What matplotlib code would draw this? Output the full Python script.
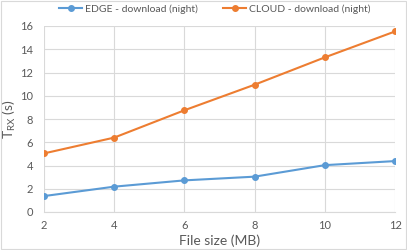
import matplotlib
matplotlib.use('Agg')
import matplotlib.pyplot as plt
from matplotlib.patches import Rectangle

# Data
file_size = [2, 4, 6, 8, 10, 12]
edge_night = [1.37, 2.18, 2.72, 3.04, 4.03, 4.38]
cloud_night = [5.04, 6.4, 8.75, 10.95, 13.3, 15.53]

plt.rcParams['font.family'] = ['Lato', 'DejaVu Sans']
plt.rcParams['mathtext.fontset'] = 'custom'
plt.rcParams['mathtext.rm'] = 'Lato'
plt.rcParams['mathtext.it'] = 'Lato'

fig = plt.figure(figsize=(4.07, 2.5), dpi=100)
ax = fig.add_axes([44 / 407, 1 - 212 / 250, 351 / 407, 186 / 250])

ax.plot(file_size, edge_night, color='#5b9bd5', linewidth=1.5, marker='o',
        markersize=4, label='EDGE - download (night)')
ax.plot(file_size, cloud_night, color='#ed7d31', linewidth=1.5, marker='o',
        markersize=4, label='CLOUD - download (night)')

ax.set_xlim(2, 12)
ax.set_ylim(0, 16)
ax.set_xticks(file_size)
ax.set_yticks(range(0, 17, 2))
ax.grid(True, color='#d9d9d9', linewidth=0.8)
ax.set_axisbelow(True)
for s in ['top', 'right']:
    ax.spines[s].set_visible(False)
ax.spines['left'].set_visible(False)
ax.spines['bottom'].set_color('#d9d9d9')
ax.tick_params(length=0, labelsize=8, colors='#595959', pad=6)
ax.tick_params(axis='y', pad=8)

ax.set_xlabel('File size (MB)', fontsize=10, color='#595959', labelpad=2)
ax.set_ylabel('$\\mathregular{T_{RX}}$ (s)', fontsize=10, color='#595959')
ax.yaxis.set_label_coords(-26 / 351, 0.5)

fig.legend(loc='upper center', bbox_to_anchor=(0.528, 1.02), ncol=2, frameon=False,
           fontsize=7.5, labelcolor='#595959', handlelength=2.2, handletextpad=0.3,
           columnspacing=2.4)

fig.patches.append(Rectangle((0.002, 0.004), 0.995, 0.992, transform=fig.transFigure,
                             fill=False, edgecolor='#d9d9d9', linewidth=0.8))

fig.savefig('out.png', dpi=100)
